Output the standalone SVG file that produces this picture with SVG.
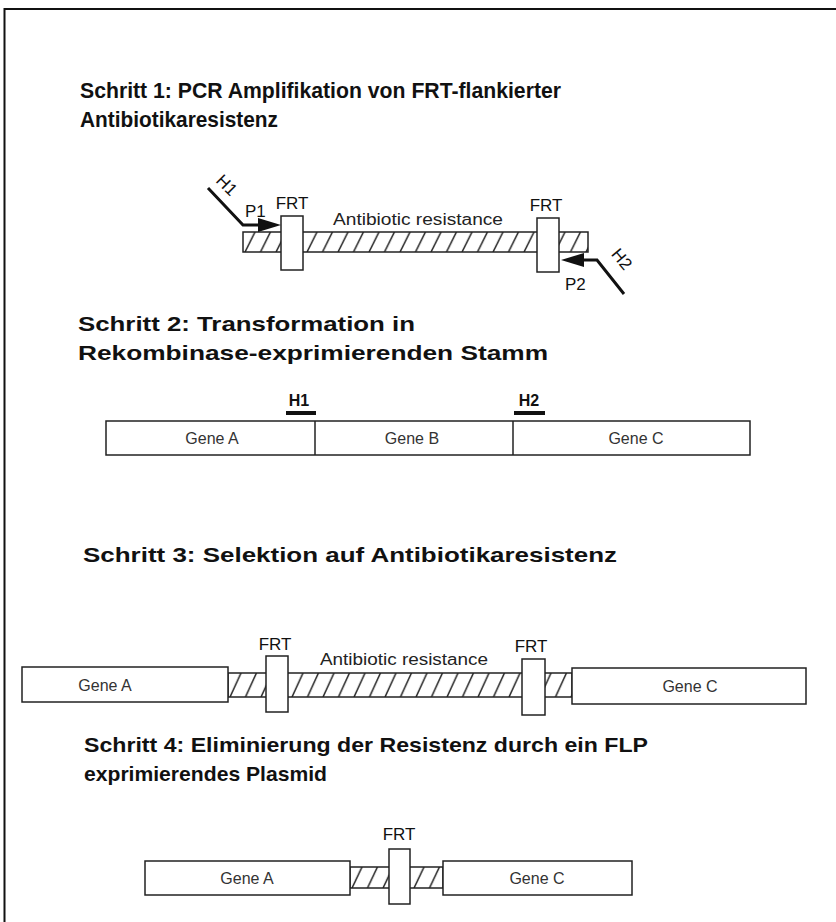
<svg xmlns="http://www.w3.org/2000/svg" width="836" height="922" viewBox="0 0 836 922">
<style>
.title{font-family:"Liberation Sans",Arial,sans-serif;font-weight:bold;font-size:21px;fill:#111}
.t1{font-size:22px}
.lbl{font-family:"Liberation Sans",Arial,sans-serif;font-size:16px;fill:#222}
.pl{font-family:"Liberation Sans",Arial,sans-serif;font-size:17px;fill:#111}
.frt{font-family:"Liberation Sans",Arial,sans-serif;font-size:17px;fill:#111;text-anchor:middle}
.gene{font-family:"Liberation Sans",Arial,sans-serif;font-size:16px;fill:#333;text-anchor:middle}
.hl{font-family:"Liberation Sans",Arial,sans-serif;font-size:16px;font-weight:bold;fill:#111;text-anchor:middle}
.box{fill:#fff;stroke:#222;stroke-width:1.5}
.hbar{stroke:#222;stroke-width:1.5}
.arrow{fill:none;stroke:#111;stroke-width:3}
.head{fill:#111}
</style>
<defs>
<pattern id="h1" patternUnits="userSpaceOnUse" x="243" y="232" width="15.5" height="20"><line x1="2" y1="20" x2="12" y2="0" stroke="#222" stroke-width="1.5"/></pattern>
<pattern id="h3" patternUnits="userSpaceOnUse" x="228" y="673" width="15.5" height="24"><line x1="2" y1="24" x2="13" y2="0" stroke="#222" stroke-width="1.5"/></pattern>
<pattern id="h4" patternUnits="userSpaceOnUse" x="350" y="867" width="15.5" height="21"><line x1="2" y1="21" x2="12" y2="0" stroke="#222" stroke-width="1.5"/></pattern>
</defs>
<rect width="836" height="922" fill="#fff"/>
<path d="M4.5,922 V9 H836" fill="none" stroke="#111" stroke-width="2"/>

<g id="title1">
<text class="title t1" x="80" y="98" textLength="481" lengthAdjust="spacingAndGlyphs">Schritt 1: PCR Amplifikation von FRT-flankierter</text>
<text class="title t1" x="80" y="127" textLength="198" lengthAdjust="spacingAndGlyphs">Antibiotikaresistenz</text>
</g>

<g id="step1-cassette">
<rect x="243" y="232" width="345" height="20" fill="url(#h1)" class="hbar"/>
<rect class="box" x="281" y="216" width="22" height="54"/>
<rect class="box" x="537" y="218" width="22" height="54"/>
<text class="frt" x="292" y="209">FRT</text>
<text class="frt" x="546" y="211">FRT</text>
<text class="lbl" x="333" y="225" textLength="170" lengthAdjust="spacingAndGlyphs">Antibiotic resistance</text>
</g>

<g id="title2">
<text class="title" x="78" y="331" textLength="337" lengthAdjust="spacingAndGlyphs">Schritt 2: Transformation in</text>
<text class="title" x="78" y="360" textLength="470" lengthAdjust="spacingAndGlyphs">Rekombinase-exprimierenden Stamm</text>
</g>

<g id="step2-genome">
<text class="hl" x="299" y="406">H1</text>
<rect x="286" y="411" width="30" height="4" fill="#111"/>
<text class="hl" x="529" y="406">H2</text>
<rect x="514" y="411" width="31" height="4" fill="#111"/>
<rect class="box" x="106" y="421" width="644" height="34"/>
<line x1="315" y1="421" x2="315" y2="455" stroke="#222" stroke-width="1.5"/>
<line x1="513" y1="421" x2="513" y2="455" stroke="#222" stroke-width="1.5"/>
<text class="gene" x="212" y="444">Gene A</text>
<text class="gene" x="412" y="444">Gene B</text>
<text class="gene" x="636" y="444">Gene C</text>
</g>

<g id="title3">
<text class="title" x="83" y="562" textLength="534" lengthAdjust="spacingAndGlyphs">Schritt 3: Selektion auf Antibiotikaresistenz</text>
</g>

<g id="step3-insert">
<rect x="228" y="673" width="344" height="24" fill="url(#h3)" class="hbar"/>
<rect class="box" x="22" y="667" width="206" height="35"/>
<rect class="box" x="572" y="668" width="234" height="36"/>
<rect class="box" x="266" y="656" width="22" height="56"/>
<rect class="box" x="522" y="659" width="23" height="56"/>
<text class="frt" x="275" y="650">FRT</text>
<text class="frt" x="531" y="652">FRT</text>
<text class="lbl" x="320" y="665" textLength="168" lengthAdjust="spacingAndGlyphs">Antibiotic resistance</text>
<text class="gene" x="105" y="691">Gene A</text>
<text class="gene" x="690" y="692">Gene C</text>
</g>

<g id="title4">
<text class="title" x="84" y="752" textLength="564" lengthAdjust="spacingAndGlyphs">Schritt 4: Eliminierung der Resistenz durch ein FLP</text>
<text class="title" x="84" y="781" textLength="243" lengthAdjust="spacingAndGlyphs">exprimierendes Plasmid</text>
</g>

<g id="step4-scar">
<rect x="350" y="867" width="93" height="21" fill="url(#h4)" class="hbar"/>
<rect class="box" x="145" y="861" width="205" height="34"/>
<rect class="box" x="443" y="861" width="189" height="34"/>
<rect class="box" x="389" y="849" width="21" height="55"/>
<text class="frt" x="399" y="840">FRT</text>
<text class="gene" x="247" y="884">Gene A</text>
<text class="gene" x="537" y="884">Gene C</text>
</g>

<g id="connectors">
<path class="arrow" d="M208,188 L243,225 L262,225"/>
<polygon class="head" points="258,218 281,225 258,232"/>
<path class="arrow" d="M624,294 L597,260 L580,260"/>
<polygon class="head" points="584,253 561,260 584,267"/>
<text class="pl" x="0" y="6" text-anchor="middle" transform="translate(227,185) rotate(45)">H1</text>
<text class="pl" x="245" y="217">P1</text>
<text class="pl" x="0" y="6" text-anchor="middle" transform="translate(622,259) rotate(50)">H2</text>
<text class="pl" x="565" y="290">P2</text>
</g>
</svg>
